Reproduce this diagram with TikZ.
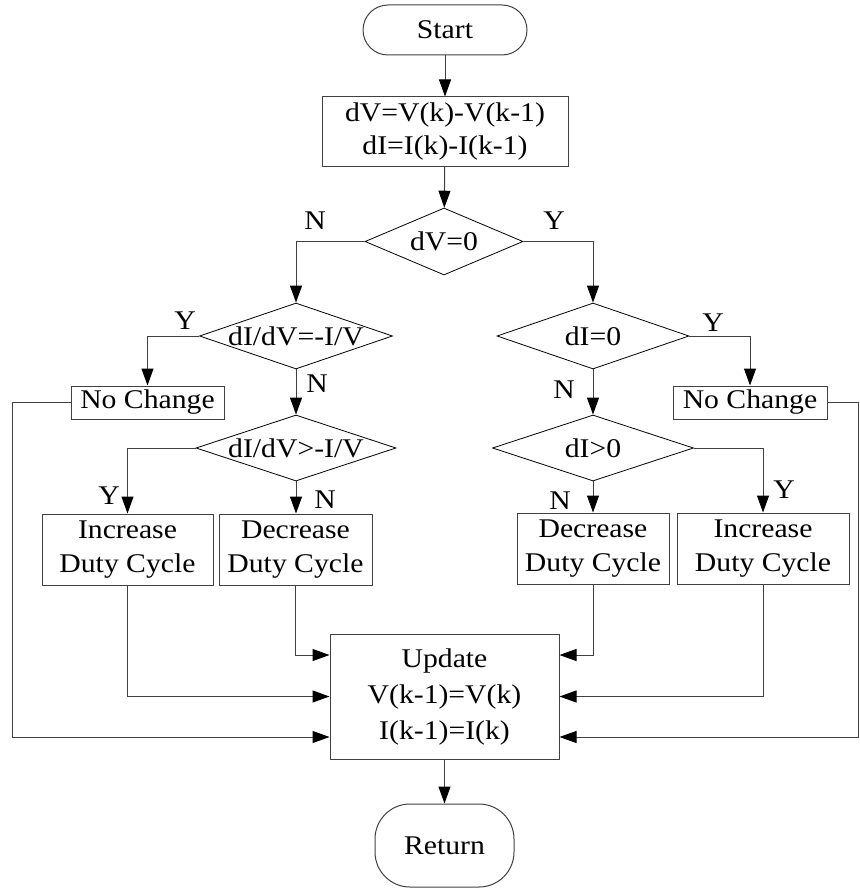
\documentclass[tikz,border=0pt]{standalone}
\usepackage{fontspec}
\setmainfont{Liberation Serif}[FakeStretch=1.1]
\usetikzlibrary{shapes.geometric,arrows.meta}

\begin{document}
\begin{tikzpicture}[
  x=1pt,y=-1pt,
  every node/.style={font=\fontsize{27}{34}\selectfont,inner sep=0pt},
  line/.style={draw=black!75,line width=1pt},
  arr/.style={line,-{Triangle[length=17pt,width=12pt,color=black]}},
  term/.style={draw=black!75,line width=1pt,rounded corners=25pt,minimum width=164pt,minimum height=50pt},
  proc/.style={draw=black!75,line width=1pt,align=center},
  cond/.style={draw=black,line width=0.8pt,diamond,aspect=3}]
  \useasboundingbox (0,0) rectangle (859,888);
  % main column
  \node[term] (start) at (445,30) {Start};
  \node[proc,minimum width=246pt,minimum height=69pt,font=\fontsize{27}{33}\selectfont]
    (calc) at (445,131.5) {dV=V(k)-V(k-1)\\dI=I(k)-I(k-1)};
  \node[cond,minimum width=158pt,minimum height=67pt] (dv) at (444,241.5) {dV=0};
  % left branch
  \node[cond,minimum width=193pt,minimum height=66pt] (eq) at (296,336) {dI/dV=-I/V};
  \node[proc,minimum width=153pt,minimum height=33pt] (nc1) at (147.5,402.5) {No Change};
  \node[cond,minimum width=200pt,minimum height=66pt] (gt) at (296,448) {dI/dV>-I/V};
  \node[proc,minimum width=171pt,minimum height=71pt] (inc1) at (127.5,549.5) {Increase\\Duty Cycle};
  \node[proc,minimum width=153pt,minimum height=71pt] (dec1) at (295.5,549.5) {Decrease\\Duty Cycle};
  % right branch
  \node[cond,minimum width=192pt,minimum height=66pt] (di0) at (593,336) {dI=0};
  \node[proc,minimum width=154pt,minimum height=33pt] (nc2) at (750,402.5) {No Change};
  \node[cond,minimum width=201pt,minimum height=66pt] (dip) at (593,448) {dI>0};
  \node[proc,minimum width=152pt,minimum height=71pt] (dec2) at (593,548.5) {Decrease\\Duty Cycle};
  \node[proc,minimum width=172pt,minimum height=71pt] (inc2) at (763,548.5) {Increase\\Duty Cycle};
  % end
  \node[proc,minimum width=229pt,minimum height=125pt,font=\fontsize{27}{36}\selectfont]
    (upd) at (444.5,696.5) {Update\\V(k-1)=V(k)\\I(k-1)=I(k)};
  \node[term,rounded corners=35pt,minimum width=139pt,minimum height=83pt] (ret) at (444.5,845.5) {Return};
  % Y/N labels
  \node (ndv) at (315,221) {N};
  \node (ydv) at (554,221) {Y};
  \node (yeq) at (185,321) {Y};
  \node (neq) at (317,384) {N};
  \node (ydi0) at (713,323) {Y};
  \node (ndi0) at (564,390) {N};
  \node (ygt) at (109,496) {Y};
  \node (ngt) at (325,500) {N};
  \node (ndip) at (560,501) {N};
  \node (ydip) at (784,490) {Y};
  \coordinate (lbus) at (12,402.5);
  \coordinate (rbus) at (858,402.5);
  \draw[arr] (start) -- (calc);
  \draw[arr] (calc) -- (dv);
  \draw[arr] (dv.west) -| (eq.north);
  \draw[arr] (dv.east) -| (di0.north);
  \draw[arr] (eq.west) -| (nc1.north);
  \draw[arr] (eq.south) -- (gt.north);
  \draw[arr] (di0.east) -| (nc2.north);
  \draw[arr] (di0.south) -- (dip.north);
  \draw[arr] (gt.west) -| (inc1.north);
  \draw[arr] (gt.south) -- (gt.south |- dec1.north);
  \draw[arr] (dip.south) -- (dec2.north);
  \draw[arr] (dip.east) -| (inc2.north);
  \draw[arr] (dec1.south) |- ([yshift=41.5pt]upd.west);
  \draw[arr] (inc1.south) |- (upd.west);
  \draw[arr] (nc1.west) -- (lbus) |- ([yshift=-40.5pt]upd.west);
  \draw[arr] (dec2.south) |- ([yshift=41.5pt]upd.east);
  \draw[arr] (inc2.south) |- (upd.east);
  \draw[arr] (nc2.east) -- (rbus) |- ([yshift=-40.5pt]upd.east);
  \draw[arr] (upd) -- (ret);
\end{tikzpicture}
\end{document}
